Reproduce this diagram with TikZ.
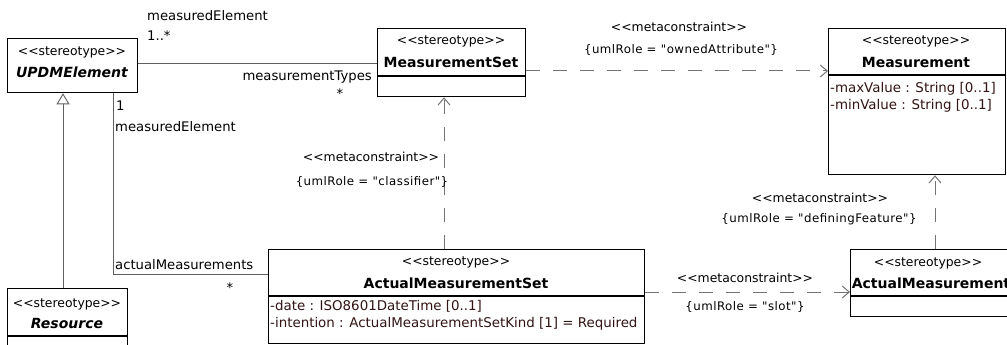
\documentclass[tikz,border=0pt]{standalone}
\usepackage{fontspec}
\setmainfont{DejaVu Sans}
\newfontfamily\rolefont{DejaVu Sans}[LetterSpace=4]
\usetikzlibrary{arrows.meta}
\definecolor{attr}{RGB}{50,20,20}
\definecolor{conn}{RGB}{95,95,95}
\definecolor{dashc}{RGB}{115,115,115}
\newcommand\ltlt{<\kern0pt<}
\newcommand\gtgt{>\kern0pt>}
\newcommand\stereo{\ltlt stereotype\gtgt}
\newcommand\metac{\ltlt metaconstraint\gtgt}
\begin{document}
\begin{tikzpicture}[x=1pt,y=-1pt,
 cls/.style={draw=black, line width=1.3pt, fill=white, inner sep=0pt, anchor=north west},
 st/.style={font=\fontsize{12.4}{14}\selectfont, inner sep=0pt},
 nm/.style={font=\fontsize{14}{16}\selectfont\bfseries, inner sep=0pt},
 nmi/.style={font=\fontsize{14}{16}\selectfont\bfseries\itshape, inner sep=0pt},
 attrtext/.style={font=\fontsize{13.4}{15}\selectfont, text=attr, inner sep=0pt, anchor=west},
 lbl/.style={font=\fontsize{13.2}{15}\selectfont, inner sep=0pt},
 mlbl/.style={font=\fontsize{12.4}{14}\selectfont, inner sep=0pt},
 role/.style={font=\rolefont\fontsize{11.8}{13}\selectfont, inner sep=0pt},
 assoc/.style={draw=conn, line width=0.9pt},
 meta/.style={draw=dashc, line width=1pt, dash pattern=on 14pt off 13pt, -{Straight Barb[length=7pt,width=12pt]}},
 gen/.style={draw=conn, line width=0.9pt, -{Triangle[open,length=11pt,width=13pt,fill=white]}},
 comp/.style={line width=1.3pt}
]
\path[use as bounding box, clip] (0,0) rectangle (1007,345);
\fill[white] (0,0) rectangle (1007,345);

% class boxes
\node[cls, minimum width=130pt, minimum height=54pt] (upd) at (7,38) {};
\node[cls, minimum width=148pt, minimum height=68pt] (mset) at (377,28) {};
\node[cls, minimum width=177pt, minimum height=146pt] (meas) at (828,28) {};
\node[cls, minimum width=376pt, minimum height=94pt] (ams) at (268,249) {};
\node[cls, minimum width=160pt, minimum height=67pt] (am) at (850,249) {};
\node[cls, minimum width=120pt, minimum height=70pt] (res) at (7,288) {};

% compartments
\draw[comp] (377,76) -- (525,76);
\draw[comp] (828,75) -- (1005,75);
\draw[comp] (268,296) -- (644,296);
\draw[comp] (850,296) -- (1010,296);
\draw[comp] (7,336) -- (127,336);

% class texts
\node[st] (updst) at (72,52) {\stereo};
\node[nmi] (updnm) at (72,72) {UPDMElement};
\node[st] (msetst) at (451,41) {\stereo};
\node[nm] (msetnm) at (451,62) {MeasurementSet};
\node[st] (measst) at (916,41) {\stereo};
\node[nm] (measnm) at (916,62) {Measurement};
\node[attrtext] (measa1) at (830,89) {-maxValue : String [0..1]};
\node[attrtext] (measa2) at (830,106) {-minValue : String [0..1]};
\node[st] (amsst) at (456,262) {\stereo};
\node[nm] (amsnm) at (456,283) {ActualMeasurementSet};
\node[attrtext] (amsa1) at (270,306) {-date : ISO8601DateTime [0..1]};
\node[attrtext] (amsa2) at (270,324) {-intention : ActualMeasurementSetKind [1] = Required};
\node[st] (amst) at (928,263) {\stereo};
\node[nm] (amnm) at (931,283) {ActualMeasurement};
\node[st] (resst) at (67,304) {\stereo};
\node[nmi] (resnm) at (67,323) {Resource};

% associations
\draw[assoc] (upd.east |- 0,63) -- (mset.west |- 0,63);
\draw[assoc] (upd.south -| 113,0) |- (ams.west |- 0,274);
\draw[gen] (res.north -| 63,0) -- (upd.south -| 63,0);

% metaconstraint dependencies
\draw[meta] (mset.east |- 0,71) -- (meas.west |- 0,71);
\draw[meta] (ams.north -| 444,0) -- (mset.south -| 444,0);
\draw[meta] (ams.east |- 0,292) -- (am.west |- 0,292);
\draw[meta] (am.north -| 935,0) -- (meas.south -| 935,0);

% association end labels
\node[lbl, anchor=west] (l1) at (147,16) {measuredElement};
\node[lbl, anchor=west] (l2) at (147,36) {1..*};
\node[lbl, anchor=east] (l3) at (372,77) {measurementTypes};
\node[lbl] (l4) at (340,94) {*};
\node[lbl, anchor=west] (l5) at (116,106) {1};
\node[lbl, anchor=west] (l6) at (115,127) {measuredElement};
\node[lbl, anchor=west] (l7) at (115,265) {actualMeasurements};
\node[lbl] (l8) at (230,288) {*};

% metaconstraint labels
\node[mlbl] (m1) at (679,27) {\metac};
\node[role] (r1) at (681,50) {\{umlRole = "ownedAttribute"\}};
\node[mlbl] (m2) at (371,157) {\metac};
\node[role] (r2) at (372,182) {\{umlRole = "classifier"\}};
\node[mlbl] (m3) at (820,198) {\metac};
\node[role] (r3) at (819,219) {\{umlRole = "definingFeature"\}};
\node[mlbl] (m4) at (745,278) {\metac};
\node[role] (r4) at (745,307) {\{umlRole = "slot"\}};
\end{tikzpicture}
\end{document}
